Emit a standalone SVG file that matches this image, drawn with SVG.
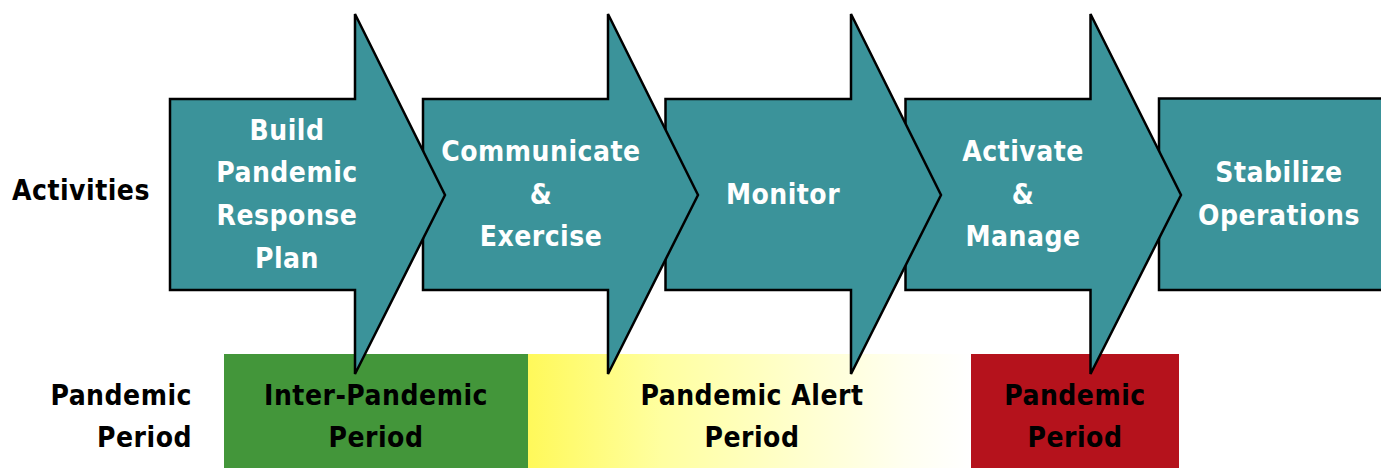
<svg xmlns="http://www.w3.org/2000/svg" width="1381" height="468" viewBox="0 0 1381 468">
<style>
.arr{fill:#3B939A;stroke:#000;stroke-width:2.5;stroke-linejoin:miter}
.wt{fill:#fff;font-family:"DejaVu Sans Condensed","DejaVu Sans",sans-serif;font-weight:bold;font-size:28px;letter-spacing:0.5px;text-anchor:middle}
.bt{fill:#000;font-family:"DejaVu Sans Condensed","DejaVu Sans",sans-serif;font-weight:bold;font-size:28px;letter-spacing:0.5px;text-anchor:middle}
</style>
<defs>
<linearGradient id="yg" x1="0" y1="0" x2="1" y2="0">
<stop offset="0" stop-color="#FFF95A"/>
<stop offset="0.3" stop-color="#FFFFA0"/>
<stop offset="0.85" stop-color="#FFFFF0"/>
<stop offset="1" stop-color="#FFFFFF"/>
</linearGradient>
</defs>
<rect width="1381" height="468" fill="#fff"/>
<g id="periods">
<rect x="224" y="354" width="304" height="114" fill="#43963A"/>
<rect x="528" y="354" width="443" height="114" fill="url(#yg)"/>
<rect x="971" y="354" width="208" height="114" fill="#B5121C"/>
</g>
<g id="stabilize">
<rect class="arr" x="1159" y="98.5" width="240" height="191.5"/>
<text class="wt" x="1279" y="182">Stabilize</text>
<text class="wt" x="1279" y="225">Operations</text>
</g>
<g id="activate">
<polygon class="arr" points="905.5,99 1090.5,99 1090.5,14 1181,195 1090.5,374 1090.5,290 905.5,290"/>
<text class="wt" x="1023" y="161">Activate</text>
<text class="wt" x="1023" y="204">&amp;</text>
<text class="wt" x="1023" y="246">Manage</text>
</g>
<g id="monitor">
<polygon class="arr" points="665.5,99 851,99 851,14 941,195 851,374 851,290 665.5,290"/>
<text class="wt" x="783" y="204">Monitor</text>
</g>
<g id="communicate">
<polygon class="arr" points="423,99 608,99 608,14 698,195 608,374 608,290 423,290"/>
<text class="wt" x="541" y="161">Communicate</text>
<text class="wt" x="541" y="204">&amp;</text>
<text class="wt" x="541" y="246">Exercise</text>
</g>
<g id="build">
<polygon class="arr" points="170,99 355,99 355,14 445,195 355,374 355,290 170,290"/>
<text class="wt" x="287" y="140">Build</text>
<text class="wt" x="287" y="182">Pandemic</text>
<text class="wt" x="287" y="225">Response</text>
<text class="wt" x="287" y="268">Plan</text>
</g>
<g id="labels">
<text class="bt" x="12" y="200" style="text-anchor:start">Activities</text>
<text class="bt" x="192" y="405" style="text-anchor:end">Pandemic</text>
<text class="bt" x="192" y="447" style="text-anchor:end">Period</text>
</g>
<g id="period-labels">
<text class="bt" x="376" y="405">Inter-Pandemic</text>
<text class="bt" x="376" y="447">Period</text>
<text class="bt" x="752" y="405">Pandemic Alert</text>
<text class="bt" x="752" y="447">Period</text>
<text class="bt" x="1075" y="405">Pandemic</text>
<text class="bt" x="1075" y="447">Period</text>
</g>
</svg>
